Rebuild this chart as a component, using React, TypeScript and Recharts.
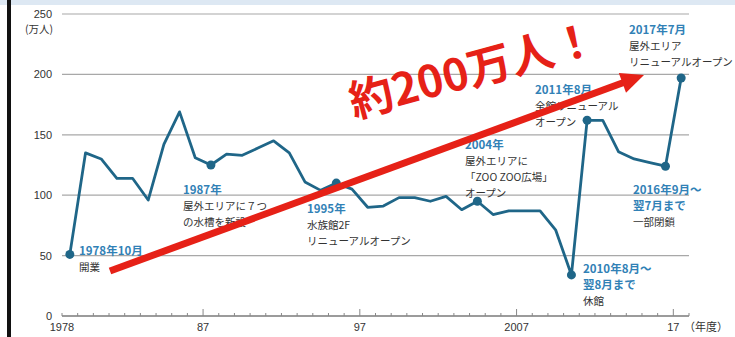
import { LineChart, Line, XAxis, YAxis, CartesianGrid } from "recharts";

// 年度別入館者数（万人）
const YEARS = [
  1978, 1979, 1980, 1981, 1982, 1983, 1984, 1985, 1986, 1987,
  1988, 1989, 1990, 1991, 1992, 1993, 1994, 1995, 1996, 1997,
  1998, 1999, 2000, 2001, 2002, 2003, 2004, 2005, 2006, 2007,
  2008, 2009, 2010, 2011, 2012, 2013, 2014, 2015, 2016, 2017,
];
const VISITORS = [
  51, 135, 130, 114, 114, 96, 142, 169, 131, 125,
  134, 133, 139, 145, 135, 111, 104, 110, 105, 90,
  91, 98, 98, 95, 99, 88, 95, 84, 87, 87,
  87, 71, 34, 162, 162, 136, 130, 127, 124, 197,
];
const MARKED_YEARS = [1978, 1987, 1995, 2004, 2010, 2011, 2016, 2017];
const Y_TICKS = [0, 50, 100, 150, 200, 250];
const X_TICK_YEARS = Array.from({ length: 41 }, (_, i) => 1978 + i);
const X_LABELS: Record<number, string> = {
  1978: "1978",
  1987: "87",
  1997: "97",
  2007: "2007",
  2017: "17",
};

const LINE_COLOR = "#1f6688";
const NOTE_BLUE = "#3181b6";
const NOTE_DARK = "#333333";
const RED = "#e62117";
const JP_FONT = '"Noto Sans CJK JP", "Noto Sans", sans-serif';
const NUM_FONT = '"Liberation Sans", Arial, sans-serif';

// 各年度の中央にプロット
const data = YEARS.map((year, i) => ({ year, pos: year + 0.5, value: VISITORS[i] }));

type Note = { x: number; y: number; lines: { text: string; blue?: boolean }[] };

const NOTES: Note[] = [
  { x: 79, y: 250, lines: [{ text: "1978年10月", blue: true }, { text: "開業" }] },
  {
    x: 183, y: 189,
    lines: [{ text: "1987年", blue: true }, { text: "屋外エリアに７つ" }, { text: "の水槽を新設" }],
  },
  {
    x: 307, y: 208,
    lines: [{ text: "1995年", blue: true }, { text: "水族館2F" }, { text: "リニューアルオープン" }],
  },
  {
    x: 465, y: 144,
    lines: [
      { text: "2004年", blue: true },
      { text: "屋外エリアに" },
      { text: "「ZOO ZOO広場」" },
      { text: "オープン" },
    ],
  },
  {
    x: 535, y: 89,
    lines: [{ text: "2011年8月", blue: true }, { text: "全館リニューアル" }, { text: "オープン" }],
  },
  {
    x: 629, y: 29,
    lines: [{ text: "2017年7月", blue: true }, { text: "屋外エリア" }, { text: "リニューアルオープン" }],
  },
  {
    x: 583, y: 268,
    lines: [{ text: "2010年8月～", blue: true }, { text: "翌8月まで", blue: true }, { text: "休館" }],
  },
  {
    x: 633, y: 189,
    lines: [{ text: "2016年9月～", blue: true }, { text: "翌7月まで", blue: true }, { text: "一部閉鎖" }],
  },
];

function YearTick(props: any) {
  const { x, y, payload } = props;
  const label = X_LABELS[payload.value];
  const major = label !== undefined && payload.value !== 1978;
  return (
    <g>
      <line x1={x} y1={y} x2={x} y2={y - (major ? 7 : 3)} stroke="#888" strokeWidth={1} />
      {label && (
        <text x={x} y={y + 15} textAnchor="middle" fontSize={11} fontFamily={NUM_FONT} fill="#333">
          {label}
        </text>
      )}
    </g>
  );
}

function MarkerDot(props: any) {
  const { cx, cy, payload, index } = props;
  if (!MARKED_YEARS.includes(payload.year)) return <g key={`d-${index}`} />;
  return <circle key={`d-${index}`} cx={cx} cy={cy} r={4.5} fill={LINE_COLOR} />;
}

function Arrow() {
  const tail = { x: 110, y: 271 };
  const tip = { x: 644, y: 75 };
  const dx = tip.x - tail.x;
  const dy = tip.y - tail.y;
  const len = Math.hypot(dx, dy);
  const ux = dx / len;
  const uy = dy / len;
  const headLen = 23;
  const headHalf = 10.5;
  const bx = tip.x - ux * headLen;
  const by = tip.y - uy * headLen;
  const p1 = `${bx - uy * headHalf},${by + ux * headHalf}`;
  const p2 = `${bx + uy * headHalf},${by - ux * headHalf}`;
  return (
    <g>
      <line x1={tail.x} y1={tail.y} x2={bx + ux * 2} y2={by + uy * 2} stroke={RED} strokeWidth={7} />
      <polygon points={`${tip.x},${tip.y} ${p1} ${p2}`} fill={RED} />
    </g>
  );
}

export default function App() {
  return (
    <div style={{ position: "absolute", left: 0, top: 0, width: 735, height: 337, background: "#fff", overflow: "hidden" }}>
      <div style={{ position: "absolute", left: 0, top: 0, width: 735, height: 5, background: "#dde8f3" }} />
      <div style={{ position: "absolute", left: 7, top: 0, width: 4, height: 337, background: "#111" }} />
      <LineChart
        width={735}
        height={337}
        data={data}
        margin={{ top: 14, right: 46, bottom: 0, left: 0 }}
        style={{ position: "absolute", left: 0, top: 0 }}
      >
        <CartesianGrid vertical={false} stroke="#a8a8a8" strokeWidth={1.2} />
        <XAxis
          dataKey="pos"
          type="number"
          domain={[1978, 2018]}
          ticks={X_TICK_YEARS}
          interval={0}
          height={21}
          tickSize={0}
          tickMargin={0}
          tickLine={false}
          tick={<YearTick />}
          axisLine={{ stroke: "#888", strokeWidth: 1.5 }}
        />
        <YAxis
          type="number"
          domain={[0, 250]}
          ticks={Y_TICKS}
          width={62}
          axisLine={false}
          tickLine={false}
          tickMargin={4}
          tick={{ fontSize: 11, fill: "#333", fontFamily: NUM_FONT }}
        />
        <Line
          dataKey="value"
          stroke={LINE_COLOR}
          strokeWidth={2.8}
          strokeLinejoin="round"
          dot={MarkerDot}
          activeDot={false}
          isAnimationActive={false}
        />
      </LineChart>
      <svg width={735} height={337} style={{ position: "absolute", left: 0, top: 0, pointerEvents: "none" }}>
        <text x={53} y={33} textAnchor="end" fontSize={10.5} fontFamily={JP_FONT} fill="#333">
          (万人)
        </text>
        <text x={684} y={331} fontSize={11} fontFamily={JP_FONT} fill="#333">
          （年度）
        </text>
        {NOTES.map((note, i) => (
          <g key={i}>
            {note.lines.map((line, j) => (
              <text
                key={j}
                x={note.x}
                y={note.y + j * 16}
                dominantBaseline="central"
                fontSize={line.blue ? 11.5 : 10.5}
                fontWeight={line.blue ? 700 : 400}
                fontFamily={JP_FONT}
                fill={line.blue ? NOTE_BLUE : NOTE_DARK}
              >
                {line.text}
              </text>
            ))}
          </g>
        ))}
        <Arrow />
        <text
          x={472}
          y={67}
          textAnchor="middle"
          dominantBaseline="central"
          fontSize={44}
          fontWeight={700}
          fontFamily={JP_FONT}
          fill={RED}
          transform="rotate(-15 472 67)"
        >
          約200万人！
        </text>
      </svg>
    </div>
  );
}
